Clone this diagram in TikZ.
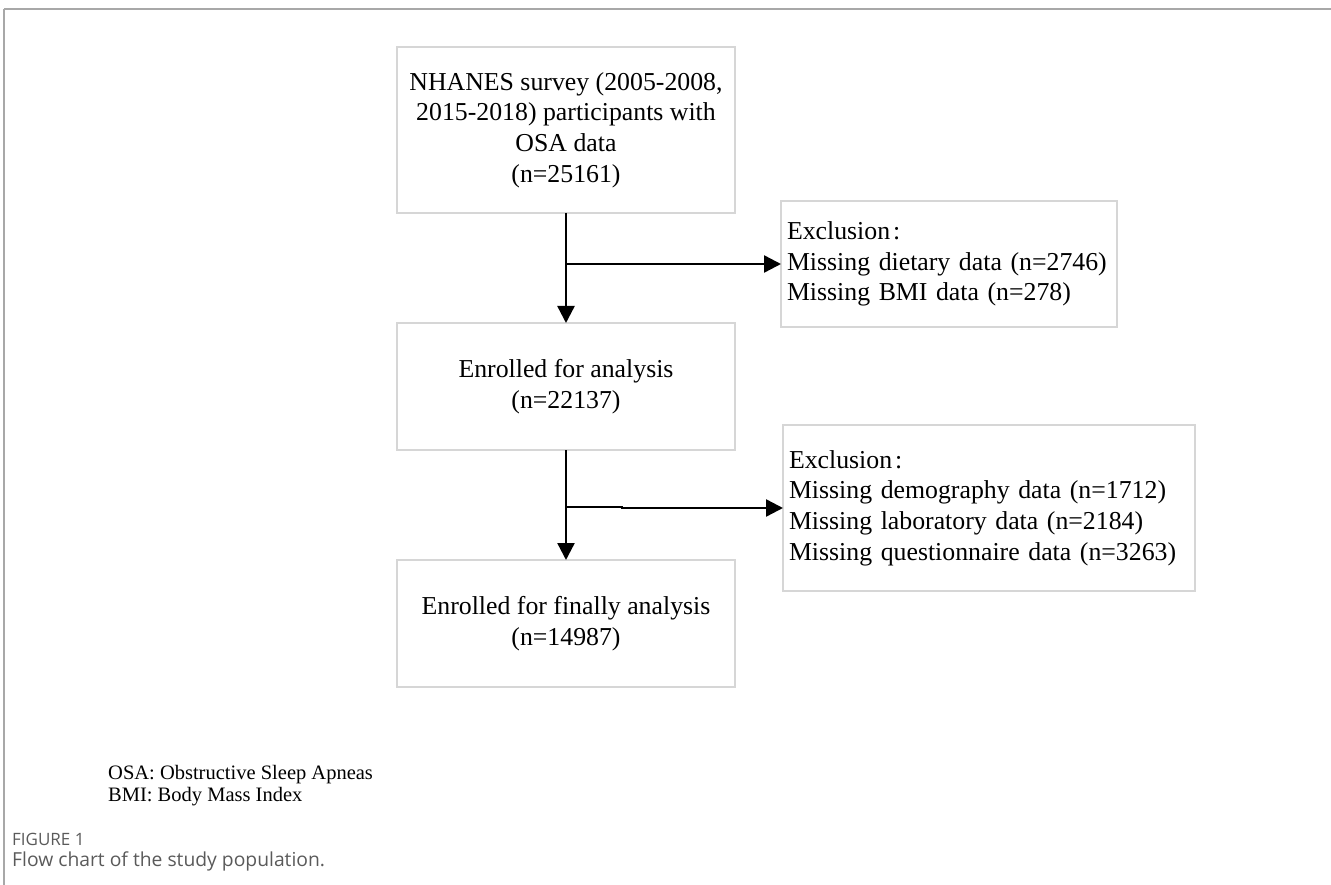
\documentclass[tikz,border=0pt]{standalone}
\usepackage{fontspec}
\setmainfont{Liberation Serif}
\newfontfamily\capfont{Open Sans}
\usetikzlibrary{arrows.meta,calc}
\definecolor{boxgray}{HTML}{D6D6D6}
\definecolor{framegray}{HTML}{A8A8A8}
\definecolor{capgray}{HTML}{5A5A5A}
\begin{document}
\begin{tikzpicture}[x=1pt,y=-1pt,
  box/.style={draw=boxgray, line width=1.6pt, rectangle, outer sep=0pt, inner sep=0pt,
    font=\fontsize{25.8}{30.7}\selectfont, align=center},
  excl/.style={box, align=left, inner xsep=6pt},
  arr/.style={draw=black, line width=2.4pt, -{Triangle[length=17pt,width=17pt]}},
  frameline/.style={draw=framegray}]
\useasboundingbox (0,0) rectangle (1331,885);
\draw[frameline, line width=1.8pt] (4,9) -- (1331,9);
\draw[frameline, line width=1.3pt] (4,9) -- (4,885);

\node[box, minimum width=338pt, minimum height=166pt] (b1) at (566,130)
  {NHANES survey (2005-2008,\\2015-2018) participants with\\OSA data\\(n=25161)};
\node[box, minimum width=338pt, minimum height=127pt] (b2) at (566,386.5)
  {Enrolled for analysis\\(n=22137)};
\node[box, minimum width=338pt, minimum height=127pt] (b3) at (566,623.5)
  {Enrolled for finally analysis\\(n=14987)};
\node[excl, text width=324pt, minimum height=126pt] (e1) at (949,264)
  {Exclusion\kern3pt:\\Missing dietary data (n=2746)\\Missing BMI data (n=278)};
\node[excl, text width=400pt, minimum height=166pt] (e2) at (989,508)
  {Exclusion\kern3pt:\\Missing demography data (n=1712)\\Missing laboratory data (n=2184)\\Missing questionnaire data (n=3263)};

\draw[arr] (b1.south) -- (b2.north);
\coordinate (k1) at (b1.south |- e1.west);
\draw[arr] (k1) -- (e1.west);
\draw[arr] (b2.south) -- (b3.north);
\coordinate (k2) at ($(b2.south)+(0,57)$);
\draw[arr] (k2) -- ++(56,0) |- (e2.west);

\node[anchor=west, align=left, inner sep=0pt, font=\fontsize{20.5}{22}\selectfont] (leg) at (108,786)
  {OSA: Obstructive Sleep Apneas\\BMI: Body Mass Index};
\node[anchor=west, inner sep=0pt, text=capgray, font=\capfont\fontsize{17}{19}\selectfont] (fig) at (12,839) {FIGURE 1};
\node[anchor=west, inner sep=0pt, text=capgray, font=\capfont\fontsize{19.3}{21}\selectfont] (cap) at (12,861) {Flow chart of the study population.};
\end{tikzpicture}
\end{document}
